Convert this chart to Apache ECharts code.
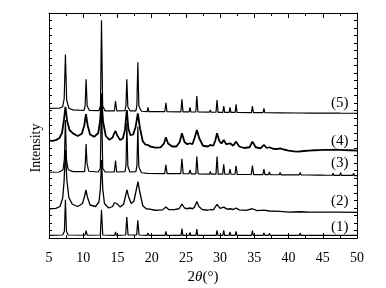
<!DOCTYPE html>
<html>
<head>
<meta charset="utf-8">
<script src="https://cdn.jsdelivr.net/npm/echarts@6/dist/echarts.min.js"></script>
<style>
  html, body { margin: 0; padding: 0; background: #fff; }
  #chart { width: 386px; height: 288px; }
</style>
</head>
<body>
<div id="chart"></div>
<script>
// XRD patterns, offset vertically; x = 2theta (deg), y = intensity in tick units
var xTicks = [5, 10, 15, 20, 25, 30, 35, 40, 45, 50];
var traceNames = ['(1)', '(2)', '(3)', '(4)', '(5)'];

var trace1 = [[5,0.35],[7.0,0.4],[7.25,0.9],[7.4,5.1],[7.55,0.9],[7.8,0.4],
  [10.25,0.37],[10.42,0.97],[10.58,0.37],[12.5,0.4],[12.67,3.77],[12.85,0.4],
  [14.6,0.36],[14.72,0.8],[14.85,0.36],[16.2,0.4],[16.37,2.79],[16.55,0.4],
  [17.8,0.4],[17.98,2.35],[18.15,0.4],[19.35,0.35],[19.45,0.66],[19.6,0.35],
  [21.95,0.35],[22.08,0.89],[22.2,0.35],[24.3,0.35],[24.42,1.24],[24.55,0.35],
  [25.47,0.35],[25.6,0.75],[25.72,0.35],[26.47,0.35],[26.6,1.2],[26.72,0.35],
  [29.43,0.35],[29.55,1.02],[29.68,0.35],[30.4,0.35],[30.53,1.02],[30.65,0.35],
  [31.32,0.35],[31.45,0.8],[31.57,0.35],[32.2,0.35],[32.33,0.89],[32.45,0.35],
  [33.2,0.35],[33.3,0.58],[33.42,0.35],[34.6,0.35],[34.72,0.97],[34.85,0.35],
  [36.28,0.35],[36.4,0.66],[36.52,0.35],[37.1,0.35],[37.2,0.62],[37.32,0.35],
  [38.65,0.35],[38.77,0.58],[38.9,0.35],[41.6,0.35],[41.7,0.66],[41.82,0.35],
  [42.9,0.35],[43.0,0.58],[43.12,0.35],[44.2,0.35],[44.3,0.53],[44.42,0.35],
  [46.4,0.35],[46.5,0.53],[46.62,0.35],[47.5,0.35],[47.6,0.58],[47.72,0.35],
  [49.4,0.35],[49.5,0.53],[49.62,0.35],[50,0.35]];

var trace2 = [[5,3.9],[6.0,3.95],[6.6,4.2],[7.0,5.3],[7.2,7.5],[7.4,11.74],[7.6,7.8],
  [7.9,5.4],[8.4,4.5],[9.2,4.2],[9.9,4.6],[10.2,5.6],[10.4,6.42],[10.6,5.5],[11.0,4.4],
  [11.8,4.2],[12.3,4.8],[12.5,6.5],[12.68,10.4],[12.85,6.6],[13.1,4.6],[13.7,4.0],
  [14.3,4.2],[14.55,4.7],[14.72,4.96],[14.9,4.6],[15.4,4.15],[15.9,4.5],[16.2,5.7],
  [16.4,6.42],[16.6,5.6],[17.0,4.6],[17.4,4.9],[17.75,6.4],[18.0,7.53],[18.25,6.2],
  [18.7,4.3],[19.2,3.9],[19.45,3.98],[19.7,3.85],[20.5,3.7],[21.6,3.75],[22.08,4.12],
  [22.5,3.8],[23.3,3.78],[24.0,3.9],[24.42,4.52],[24.8,4.0],[25.2,3.9],[25.6,4.0],
  [26.0,3.9],[26.3,4.2],[26.6,4.87],[26.9,4.2],[27.4,3.8],[28.2,3.7],[28.57,3.8],
  [29.0,3.75],[29.55,4.47],[30.0,3.95],[30.53,4.12],[31.0,3.85],[31.45,3.9],[31.9,3.8],
  [32.33,3.99],[32.8,3.75],[33.8,3.68],[34.72,3.9],[35.4,3.65],[36.4,3.72],[37.2,3.6],
  [38.77,3.55],[40,3.45],[41.7,3.5],[43,3.45],[45,3.46],[47,3.44],[50,3.41]];

var trace3 = [[5,8.77],[6.5,8.8],[7.05,9.1],[7.25,10.5],[7.4,15.73],[7.55,10.5],[7.8,9.1],
  [8.5,8.85],[10.2,8.85],[10.32,10.2],[10.42,12.54],[10.55,10.0],[10.8,8.9],[12.2,8.8],
  [12.5,9.3],[12.67,19.27],[12.85,9.3],[13.2,8.8],[14.55,8.8],[14.72,10.32],[14.88,8.8],
  [16.1,8.85],[16.25,9.6],[16.37,15.29],[16.52,9.6],[16.8,8.8],[17.7,8.85],[17.85,9.7],
  [17.98,14.84],[18.12,9.5],[18.5,8.7],[19.35,8.62],[19.45,8.86],[19.58,8.6],
  [21.9,8.58],[22.08,9.75],[22.25,8.58],[24.25,8.58],[24.42,10.55],[24.6,8.58],
  [25.45,8.57],[25.6,9.08],[25.75,8.56],[26.45,8.56],[26.6,10.86],[26.78,8.56],
  [28.45,8.52],[28.57,8.86],[28.7,8.52],[29.4,8.52],[29.55,10.86],[29.72,8.52],
  [30.38,8.52],[30.53,9.84],[30.68,8.5],[31.3,8.5],[31.45,9.17],[31.6,8.5],
  [32.18,8.5],[32.33,9.61],[32.5,8.48],[33.2,8.47],[33.3,8.64],[33.42,8.47],
  [34.55,8.47],[34.72,9.66],[34.9,8.46],[36.25,8.45],[36.4,9.17],[36.55,8.45],
  [37.08,8.44],[37.2,8.82],[37.33,8.44],[38.65,8.43],[38.77,8.73],[38.9,8.42],
  [41.58,8.42],[41.7,8.73],[41.83,8.42],[42.9,8.4],[43.0,8.64],[43.12,8.4],
  [44.2,8.39],[44.3,8.55],[44.42,8.39],[45.2,8.38],[45.3,8.55],[45.42,8.38],
  [46.4,8.37],[46.5,8.64],[46.62,8.36],[47.5,8.36],[47.6,8.73],[47.72,8.35],
  [49.4,8.34],[49.5,8.64],[49.62,8.33],[50,8.33]];

var trace4 = [[5,12.98],[5.5,12.95],[6.0,13.05],[6.5,13.3],[6.9,14.0],[7.15,15.5],[7.4,17.5],
  [7.65,15.6],[8.0,14.4],[8.5,13.95],[9.2,13.6],[9.8,13.9],[10.15,15.0],[10.4,16.53],
  [10.65,15.0],[11.0,13.8],[11.6,13.5],[12.2,14.0],[12.45,15.5],[12.68,18.39],[12.9,15.5],
  [13.3,13.6],[13.8,13.1],[14.3,13.4],[14.5,13.9],[14.72,14.27],[14.95,13.7],[15.4,13.05],
  [15.8,13.3],[16.1,14.4],[16.37,17.06],[16.6,14.6],[16.9,13.7],[17.3,13.8],[17.65,14.8],
  [17.98,16.6],[18.3,14.6],[18.7,12.9],[19.1,12.45],[19.45,12.41],[19.8,12.2],[20.5,12.05],
  [21.3,12.08],[21.8,12.6],[22.08,13.43],[22.4,12.6],[23.0,12.2],[23.6,12.2],[24.1,12.8],
  [24.42,13.96],[24.8,12.8],[25.2,12.5],[25.6,12.63],[25.95,12.5],[26.3,13.4],[26.6,14.4],
  [26.95,13.3],[27.5,12.3],[28.2,12.2],[28.57,12.41],[29.0,12.3],[29.3,13.0],[29.55,13.96],
  [29.9,12.9],[30.2,12.6],[30.53,13.07],[30.9,12.5],[31.45,12.63],[31.9,12.3],[32.33,12.85],
  [32.8,12.2],[33.5,12.0],[34.3,12.1],[34.72,12.85],[35.2,12.1],[35.9,11.95],[36.4,12.41],
  [36.8,12.0],[37.2,12.1],[37.7,11.9],[38.3,11.85],[38.77,11.96],[39.3,11.8],[40,11.65],
  [40.8,11.55],[41.5,11.52],[42.2,11.6],[43,11.65],[43.8,11.7],[44.5,11.72],[45,11.74],
  [46,11.76],[47,11.78],[48,11.72],[49,11.7],[50,11.65]];

var trace5 = [[5,17.28],[6.5,17.3],[7.0,17.5],[7.22,18.6],[7.4,24.46],[7.58,18.4],[7.9,17.3],
  [8.5,17.08],[10.1,17.0],[10.28,17.6],[10.42,21.18],[10.58,17.6],[10.9,17.0],[12.3,16.98],
  [12.52,17.6],[12.67,29.02],[12.84,17.6],[13.2,16.95],[14.55,16.94],[14.72,18.26],
  [14.9,16.94],[16.1,16.97],[16.24,17.6],[16.37,21.18],[16.52,17.5],[16.85,16.94],
  [17.7,16.96],[17.84,17.7],[17.98,23.44],[18.13,17.6],[18.5,16.9],[19.35,16.86],
  [19.45,17.41],[19.58,16.85],[20.9,16.84],[21.0,17.0],[21.1,16.84],[21.92,16.84],
  [22.08,18.03],[22.24,16.83],[24.27,16.82],[24.42,18.48],[24.58,16.82],[25.47,16.81],
  [25.6,17.41],[25.73,16.8],[26.45,16.8],[26.6,18.92],[26.76,16.8],[28.45,16.78],
  [28.57,17.06],[28.7,16.78],[29.4,16.77],[29.55,18.39],[29.7,16.76],[30.4,16.76],
  [30.53,17.59],[30.67,16.75],[31.32,16.75],[31.45,17.41],[31.58,16.74],[32.2,16.74],
  [32.33,17.81],[32.47,16.73],[34.58,16.72],[34.72,17.59],[34.87,16.71],[36.27,16.71],
  [36.4,17.28],[36.53,16.7],[37.1,16.7],[37.2,16.93],[37.32,16.69],[38.67,16.69],
  [38.77,16.75],[38.9,16.68],[41.6,16.67],[41.7,16.84],[41.82,16.67],[42.9,16.66],
  [43.0,16.75],[43.12,16.66],[46.4,16.65],[46.5,16.75],[46.62,16.64],[47.5,16.64],
  [47.6,16.8],[47.72,16.63],[49.4,16.63],[49.5,16.75],[49.62,16.62],[50,16.62]];

var traces = [trace1, trace2, trace3, trace4, trace5];
var lineWidths = [1.2, 1.3, 1.2, 1.8, 1.2];
// where the "(n)" tags sit, in pixels
var tagY = [228, 202, 164, 142, 104];

var serif = '"Liberation Serif", "Times New Roman", serif';

var series = traces.map(function (d, i) {
    return {
        name: traceNames[i],
        type: 'line',
        data: d,
        showSymbol: false,
        symbol: 'none',
        lineStyle: { color: '#000', width: lineWidths[i] },
        silent: true
    };
});

var baseX = {
    type: 'value',
    min: 5,
    max: 50,
    interval: 5,
    axisLine: { show: true, onZero: false, lineStyle: { color: '#000', width: 1 } },
    axisTick: { show: true, inside: true, length: 5, lineStyle: { color: '#000' } },
    minorTick: { show: true, splitNumber: 2, length: 3, lineStyle: { color: '#000' } },
    splitLine: { show: false }
};
var baseY = {
    type: 'value',
    min: 0,
    max: 30,
    interval: 1,
    axisLine: { show: true, onZero: false, lineStyle: { color: '#000', width: 1 } },
    axisTick: { show: true, inside: true, length: 3, lineStyle: { color: '#000' } },
    axisLabel: { show: false },
    splitLine: { show: false }
};

var tags = traceNames.map(function (t, i) {
    return {
        type: 'text',
        left: 331,
        top: tagY[i] - 8,
        style: { text: t, fill: '#000', font: '15px ' + serif }
    };
});
// y axis title sits a bit below the middle of the frame
tags.push({
    type: 'text',
    x: 36,
    y: 148,
    rotation: Math.PI / 2,
    style: { text: 'Intensity', fill: '#000', font: '14px ' + serif, align: 'center', verticalAlign: 'middle' }
});

var option = {
    animation: false,
    backgroundColor: '#fff',
    grid: { left: 49, right: 29, top: 13, bottom: 50, containLabel: false, outerBoundsMode: 'none' },
    xAxis: [
        Object.assign({}, baseX, {
            position: 'bottom',
            axisLabel: {
                color: '#000', fontFamily: serif, fontSize: 14, margin: 13,
                formatter: function (v) { return xTicks.indexOf(v) >= 0 ? String(v) : ''; }
            },
            name: '2{i|θ}(°)',
            nameLocation: 'middle',
            nameGap: 32,
            nameTextStyle: {
                color: '#000', fontFamily: serif, fontSize: 15,
                rich: { i: { fontStyle: 'italic', fontFamily: serif, fontSize: 15, color: '#000' } }
            }
        }),
        Object.assign({}, baseX, { position: 'top', axisLabel: { show: false } })
    ],
    yAxis: [
        Object.assign({}, baseY, { position: 'left' }),
        Object.assign({}, baseY, { position: 'right' })
    ],
    series: series,
    graphic: tags
};

var chart = echarts.init(document.getElementById('chart'), null, { renderer: 'canvas' });
chart.setOption(option);
</script>
</body>
</html>
